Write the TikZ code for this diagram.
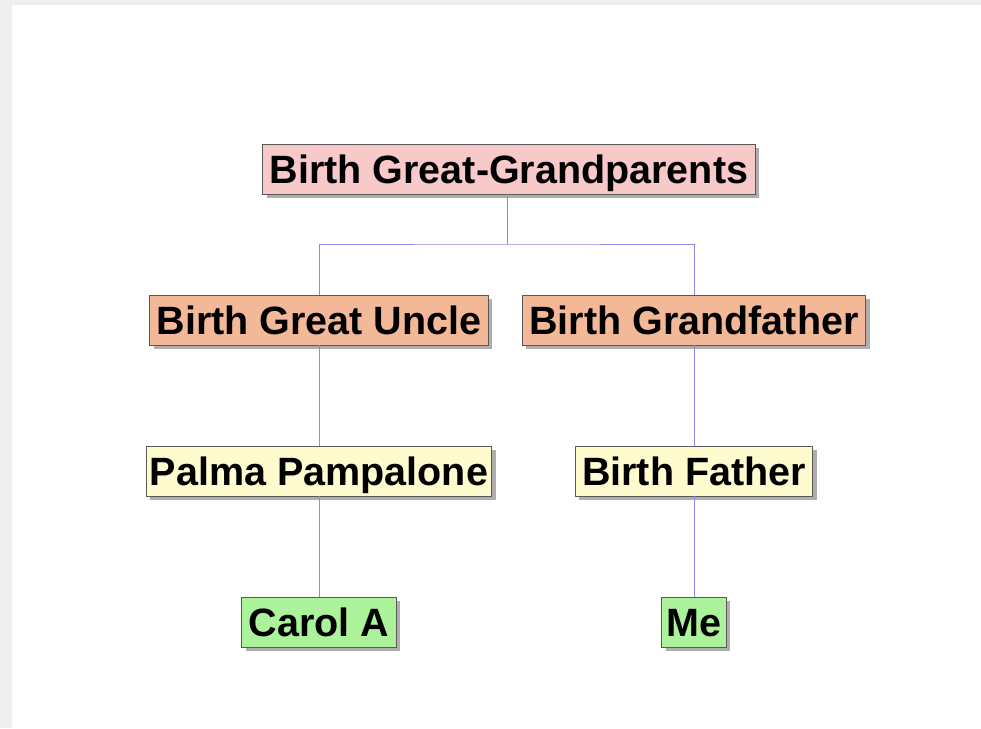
\documentclass[tikz,border=0pt]{standalone}
\usepackage{fontspec}
\setmainfont{Liberation Sans}
\usetikzlibrary{shadows}
\definecolor{pinkbox}{HTML}{F7C9C8}
\definecolor{orangebox}{HTML}{F3B898}
\definecolor{yellowbox}{HTML}{FEFBCF}
\definecolor{greenbox}{HTML}{ACF29A}
\definecolor{edgeline}{HTML}{8A8AE6}
\definecolor{bggray}{HTML}{EFEFEF}
\begin{document}
\begin{tikzpicture}[x=1pt,y=-1pt,
  person/.style={draw=black!65, line width=0.9pt, inner xsep=7pt, inner ysep=6.5pt,
    text height=32.5pt, text depth=4.5pt,
    font=\fontsize{39.5pt}{40pt}\selectfont\bfseries,
    drop shadow={shadow xshift=4pt, shadow yshift=-4pt, fill=black!45, opacity=0.7}},
  link/.style={draw=edgeline, line width=1pt}]
\fill[bggray] (0,0) rectangle (981,728);
\fill[white] (12,5) rectangle (981,728);
\useasboundingbox (0,0) rectangle (981,728);
\node[person, fill=pinkbox] (ggp) at (509,169) {Birth Great-Grandparents};
\node[person, fill=orangebox] (gu) at (319,320) {Birth Great Uncle};
\node[person, fill=orangebox] (gf) at (694,320) {Birth Grandfather};
\node[person, fill=yellowbox, inner xsep=3.5pt] (pp) at (319,471) {Palma Pampalone};
\node[person, fill=yellowbox] (bf) at (694,471) {Birth Father};
\node[person, fill=greenbox] (ca) at (319,622) {Carol A};
\node[person, fill=greenbox, inner xsep=5pt] (me) at (694,622) {Me};
\coordinate (mid) at (507,244);
\draw[link] (ggp.south -| mid) -- (mid);
\draw[link] (gu.north) |- (mid) -| (gf.north);
\draw[link] (gu.south) -- (pp.north);
\draw[link] (pp.south) -- (ca.north);
\draw[link] (gf.south) -- (bf.north);
\draw[link] (bf.south) -- (me.north);
\end{tikzpicture}
\end{document}
